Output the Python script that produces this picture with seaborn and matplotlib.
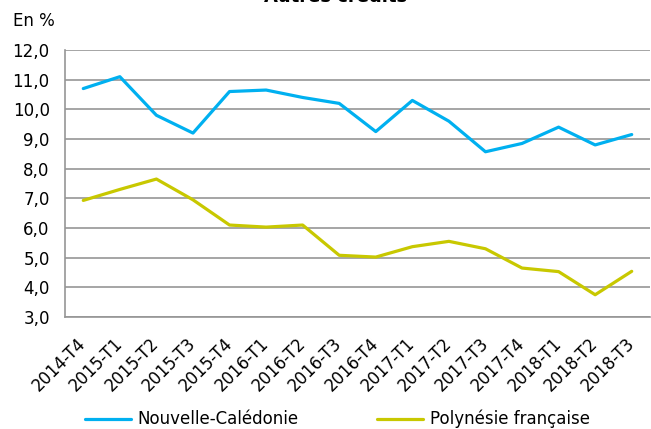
import pandas as pd
import matplotlib.pyplot as plt
import seaborn as sns

periodes = ['2014-T4', '2015-T1', '2015-T2', '2015-T3', '2015-T4', '2016-T1', '2016-T2', '2016-T3',
            '2016-T4', '2017-T1', '2017-T2', '2017-T3', '2017-T4', '2018-T1', '2018-T2', '2018-T3']
nouvelle_caledonie = [10.7, 11.1, 9.8, 9.2, 10.6, 10.65, 10.4, 10.2,
                      9.25, 10.3, 9.6, 8.57, 8.85, 9.4, 8.8, 9.15]
polynesie = [6.93, 7.3, 7.65, 6.95, 6.1, 6.03, 6.1, 5.08,
             5.02, 5.37, 5.55, 5.3, 4.65, 4.53, 3.75, 4.54]

df = pd.DataFrame({
    'periode': periodes * 2,
    'valeur': nouvelle_caledonie + polynesie,
    'serie': ['Nouvelle-Calédonie'] * len(periodes) + ['Polynésie française'] * len(periodes),
})
df['x'] = list(range(len(periodes))) * 2

sns.set_style('white')
plt.rcParams['font.family'] = ['DejaVu Sans']
plt.rcParams['text.color'] = 'black'
plt.rcParams['xtick.color'] = 'black'
plt.rcParams['ytick.color'] = 'black'

bleu, jaune, gris = '#00B0F0', '#C8C800', '#969696'

fig = plt.figure(figsize=(6.51, 4.29), dpi=100)
ax = fig.add_axes([65 / 651, 1 - 317 / 429, 585 / 651, 267 / 429])

sns.lineplot(data=df, x='x', y='valeur', hue='serie',
             palette=[bleu, jaune], linewidth=2.3, ax=ax, legend=False)

ax.set_xlim(-0.5, len(periodes) - 0.5)
ax.set_ylim(3, 12)
ax.set_yticks(range(3, 13))
ax.set_yticklabels([f"{v},0" for v in range(3, 13)], fontsize=12)
ax.set_xticks(range(len(periodes)))
ax.set_xticklabels(periodes, rotation=45, ha='right', va='center', rotation_mode='anchor', fontsize=12)
ax.set_xticks([i - 0.5 for i in range(len(periodes) + 1)], minor=True)
ax.tick_params(axis='x', which='major', length=0, pad=17)
ax.tick_params(axis='x', which='minor', length=4, color=gris, width=1)
ax.tick_params(axis='y', length=5, color=gris, width=1, pad=6, labelcolor='black')
ax.tick_params(axis='x', labelcolor='black')
ax.set_xlabel('')
ax.set_ylabel('')
ax.grid(axis='y', color=gris, linewidth=1.2)
ax.set_axisbelow(True)
for s in ['top', 'right']:
    ax.spines[s].set_visible(False)
for s in ['left', 'bottom']:
    ax.spines[s].set_color(gris)
    ax.spines[s].set_linewidth(1.2)

# titre coupé en haut comme dans l'original
fig.text(336 / 651, 1.006, 'Autres crédits', ha='center', va='center', fontsize=13, fontweight='bold')
fig.text(13 / 651, 1 - 21 / 429, 'En %', ha='left', va='center', fontsize=12)

# légende en bas
y_leg = 1 - 419 / 429
fig.lines.append(plt.Line2D([85 / 651, 131 / 651], [y_leg, y_leg], color=bleu, lw=2.3, transform=fig.transFigure))
fig.lines.append(plt.Line2D([377 / 651, 423 / 651], [y_leg, y_leg], color=jaune, lw=2.3, transform=fig.transFigure))
fig.text(137 / 651, y_leg, 'Nouvelle-Calédonie', ha='left', va='center', fontsize=12)
fig.text(430 / 651, y_leg, 'Polynésie française', ha='left', va='center', fontsize=12)

fig.savefig('out.png', dpi=100)
